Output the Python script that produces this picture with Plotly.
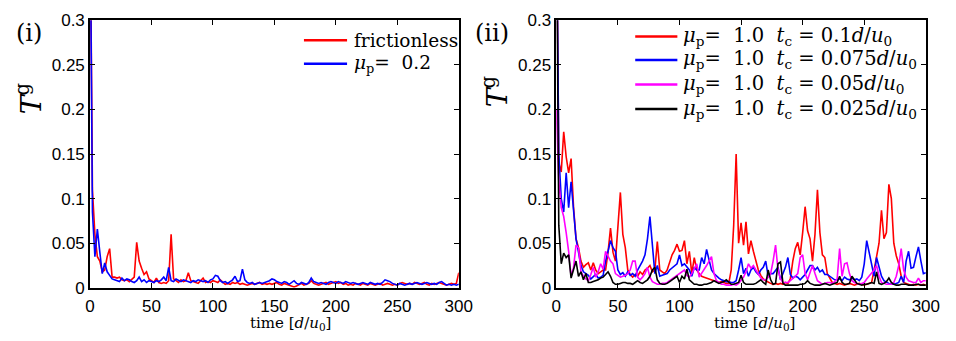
import plotly.graph_objects as go

# sampling times [d/u0]
time = list(range(0, 301, 2))

# ---- panel (i) ----
frictionless = [
    0.45, 0.11, 0.06, 0.035, 0.03, 0.018, 0.02, 0.035, 0.044, 0.012,
    0.012, 0.011, 0.012, 0.009, 0.008, 0.009, 0.007, 0.010, 0.012, 0.051,
    0.030, 0.022, 0.015, 0.018, 0.010, 0.008, 0.006, 0.011, 0.006, 0.005,
    0.006, 0.005, 0.008, 0.060, 0.010, 0.008, 0.006, 0.009, 0.007, 0.008,
    0.017, 0.008, 0.007, 0.006, 0.005, 0.008, 0.011, 0.006, 0.007, 0.006,
    0.008, 0.007, 0.006, 0.009, 0.007, 0.004, 0.005, 0.004, 0.006, 0.005,
    0.006, 0.004, 0.005, 0.004, 0.003, 0.004, 0.005, 0.004, 0.005, 0.006,
    0.004, 0.005, 0.004, 0.005, 0.004, 0.005, 0.006, 0.004, 0.003, 0.005,
    0.004, 0.003, 0.002, 0.001, 0.002, 0.004, 0.005, 0.003, 0.004, 0.005,
    0.008, 0.005, 0.004, 0.003, 0.004, 0.005, 0.006, 0.004, 0.005, 0.006,
    0.007, 0.005, 0.006, 0.004, 0.005, 0.003, 0.004, 0.003, 0.005, 0.004,
    0.003, 0.005, 0.004, 0.003, 0.005, 0.004, 0.003, 0.004, 0.005, 0.003,
    0.004, 0.005, 0.004, 0.003, 0.004, 0.003, 0.005, 0.006, 0.005, 0.004,
    0.005, 0.004, 0.006, 0.005, 0.004, 0.005, 0.006, 0.004, 0.003, 0.005,
    0.004, 0.005, 0.006, 0.005, 0.004, 0.003, 0.004, 0.005, 0.004, 0.005,
    0.017,
]
mu02 = [
    0.45, 0.085, 0.035, 0.066, 0.040, 0.016, 0.028, 0.018, 0.014, 0.010,
    0.009, 0.008, 0.007, 0.011, 0.008, 0.010, 0.009, 0.007, 0.006, 0.008,
    0.012, 0.007, 0.009, 0.006, 0.008, 0.007, 0.006, 0.008, 0.007, 0.009,
    0.012, 0.008, 0.023, 0.008, 0.007, 0.010, 0.008, 0.007, 0.009, 0.008,
    0.007, 0.006, 0.008, 0.007, 0.009, 0.008, 0.007, 0.008, 0.006, 0.009,
    0.010, 0.014, 0.013, 0.008, 0.006, 0.007, 0.005, 0.007, 0.009, 0.013,
    0.007, 0.008, 0.021, 0.009, 0.006, 0.005, 0.006, 0.004, 0.005, 0.006,
    0.005, 0.006, 0.007, 0.008, 0.010, 0.009, 0.007, 0.006, 0.005, 0.007,
    0.006, 0.004, 0.006, 0.008, 0.005, 0.004, 0.006, 0.005, 0.004, 0.006,
    0.011, 0.007, 0.006, 0.005, 0.006, 0.005, 0.004, 0.006, 0.007, 0.006,
    0.005, 0.007, 0.006, 0.005, 0.007, 0.006, 0.005, 0.006, 0.005, 0.004,
    0.005, 0.006, 0.005, 0.004, 0.006, 0.005, 0.004, 0.005, 0.004, 0.006,
    0.009, 0.008, 0.007, 0.005, 0.004, 0.003, 0.005, 0.004, 0.003, 0.004,
    0.005, 0.004, 0.005, 0.006, 0.005, 0.004, 0.005, 0.006, 0.005, 0.004,
    0.005, 0.004, 0.006, 0.007, 0.005, 0.003, 0.004, 0.003, 0.004, 0.003,
    0.004,
]

# ---- panel (ii) ----
tc_0100 = [
    0.45, 0.14, 0.13, 0.175, 0.147, 0.129, 0.145, 0.09, 0.055, 0.045,
    0.03, 0.023, 0.026, 0.028, 0.02, 0.028, 0.02, 0.016, 0.018, 0.02,
    0.02, 0.04, 0.067, 0.04, 0.03, 0.075, 0.107, 0.06, 0.045, 0.02,
    0.015, 0.012, 0.015, 0.013, 0.018, 0.015, 0.02, 0.022, 0.025, 0.018,
    0.02, 0.052, 0.02, 0.018, 0.016, 0.02, 0.03, 0.037, 0.042, 0.049,
    0.041, 0.042, 0.053, 0.027, 0.041, 0.016, 0.034, 0.02, 0.016, 0.013,
    0.012, 0.011, 0.01, 0.009, 0.008, 0.007, 0.006, 0.007, 0.006, 0.005,
    0.005, 0.02, 0.07, 0.15, 0.05, 0.073, 0.048, 0.074, 0.038, 0.053,
    0.041, 0.03, 0.02, 0.014, 0.01, 0.008, 0.006, 0.005, 0.004, 0.005,
    0.004, 0.005, 0.004, 0.006, 0.005, 0.01, 0.03, 0.044, 0.051, 0.037,
    0.062, 0.091, 0.064, 0.055, 0.03, 0.06, 0.11, 0.062, 0.037, 0.034,
    0.016, 0.01, 0.006, 0.005, 0.004, 0.005, 0.004, 0.003, 0.004, 0.005,
    0.004, 0.003, 0.004, 0.005, 0.004, 0.003, 0.004, 0.005, 0.006, 0.02,
    0.034, 0.05, 0.087, 0.055, 0.062, 0.116, 0.1, 0.05, 0.036, 0.027,
    0.013, 0.006, 0.005, 0.004, 0.003, 0.004, 0.003, 0.004, 0.003, 0.004,
    0.003,
]
tc_0075 = [
    0.45, 0.15, 0.1, 0.085, 0.129, 0.09, 0.119, 0.085, 0.055, 0.04,
    0.025, 0.018, 0.016, 0.014, 0.01, 0.013, 0.015, 0.011, 0.012, 0.014,
    0.03, 0.041, 0.053, 0.045, 0.041, 0.02, 0.015, 0.017, 0.013, 0.018,
    0.014, 0.016, 0.013, 0.02, 0.025, 0.03, 0.037, 0.055, 0.08, 0.045,
    0.016, 0.025, 0.013, 0.014, 0.015, 0.016, 0.02, 0.022, 0.024, 0.027,
    0.037, 0.025, 0.027, 0.024, 0.02, 0.013, 0.023, 0.02, 0.02, 0.034,
    0.027, 0.043, 0.031, 0.02, 0.016, 0.013, 0.011, 0.009, 0.008, 0.007,
    0.007, 0.006, 0.006, 0.008, 0.02, 0.034, 0.016, 0.022, 0.013, 0.02,
    0.023, 0.018, 0.015, 0.02, 0.023, 0.03, 0.013, 0.016, 0.016, 0.02,
    0.023, 0.009, 0.015, 0.023, 0.034, 0.015, 0.011, 0.013, 0.012, 0.009,
    0.012, 0.015, 0.02, 0.025, 0.025, 0.02, 0.023, 0.018, 0.02, 0.015,
    0.015, 0.013, 0.011, 0.009, 0.009, 0.01, 0.008, 0.012, 0.01, 0.009,
    0.011, 0.009, 0.01, 0.008, 0.012, 0.027, 0.053, 0.04, 0.023, 0.013,
    0.034, 0.023, 0.013, 0.008, 0.006, 0.005, 0.004, 0.004, 0.005, 0.006,
    0.013, 0.006, 0.03, 0.041, 0.022, 0.023, 0.035, 0.046, 0.03, 0.016,
    0.017,
]
tc_0050 = [
    0.2, 0.12, 0.09, 0.08, 0.062, 0.041, 0.013, 0.023, 0.048, 0.045,
    0.018, 0.013, 0.01, 0.008, 0.015, 0.023, 0.012, 0.018, 0.027, 0.021,
    0.041, 0.035, 0.03, 0.027, 0.016, 0.014, 0.012, 0.013, 0.014, 0.016,
    0.02, 0.03, 0.03, 0.012, 0.009, 0.012, 0.016, 0.023, 0.012, 0.007,
    0.005, 0.004, 0.004, 0.005, 0.005, 0.006, 0.008, 0.01, 0.012, 0.014,
    0.016, 0.018, 0.02, 0.014, 0.012, 0.016, 0.022, 0.027, 0.012, 0.016,
    0.02, 0.025, 0.03, 0.035, 0.016, 0.008, 0.006, 0.004, 0.004, 0.003,
    0.003, 0.003, 0.004, 0.003, 0.005, 0.008, 0.012, 0.018, 0.027, 0.022,
    0.025, 0.02, 0.016, 0.011, 0.009, 0.009, 0.012, 0.016, 0.03, 0.048,
    0.02, 0.01, 0.006, 0.006, 0.006, 0.008, 0.01, 0.013, 0.016, 0.034,
    0.037, 0.016, 0.009, 0.018, 0.025, 0.016, 0.008, 0.006, 0.004, 0.005,
    0.006, 0.006, 0.005, 0.007, 0.01, 0.044, 0.013, 0.027, 0.028, 0.016,
    0.008, 0.006, 0.005, 0.004, 0.005, 0.006, 0.01, 0.013, 0.016, 0.02,
    0.025, 0.013, 0.006, 0.005, 0.004, 0.004, 0.004, 0.006, 0.013, 0.025,
    0.044, 0.02, 0.012, 0.008, 0.007, 0.006, 0.006, 0.011, 0.006, 0.008,
    0.008,
]
tc_0025 = [
    0.45, 0.07, 0.027, 0.039, 0.034, 0.037, 0.011, 0.02, 0.03, 0.013,
    0.018, 0.009, 0.016, 0.006, 0.006, 0.007, 0.008, 0.009, 0.011, 0.012,
    0.015, 0.018, 0.013, 0.006, 0.004, 0.004, 0.005, 0.006, 0.006, 0.005,
    0.005, 0.004, 0.006, 0.008, 0.006, 0.005, 0.007, 0.009, 0.013, 0.02,
    0.023, 0.009, 0.005, 0.004, 0.004, 0.005, 0.007, 0.009, 0.011, 0.013,
    0.006, 0.013, 0.01, 0.021, 0.009, 0.006, 0.004, 0.004, 0.003, 0.003,
    0.004, 0.004, 0.005, 0.006, 0.008, 0.006, 0.005, 0.006, 0.007, 0.009,
    0.006, 0.004, 0.004, 0.005, 0.006, 0.014, 0.006, 0.004, 0.004, 0.004,
    0.004, 0.005, 0.007, 0.009, 0.006, 0.004, 0.02, 0.009, 0.004, 0.005,
    0.027, 0.029, 0.005, 0.003, 0.003, 0.003, 0.003, 0.003, 0.003, 0.004,
    0.004, 0.005, 0.008, 0.005, 0.004, 0.003, 0.003, 0.003, 0.004, 0.005,
    0.004, 0.003, 0.004, 0.005, 0.006, 0.013, 0.006, 0.004, 0.004, 0.005,
    0.013, 0.009, 0.005, 0.004, 0.003, 0.004, 0.004, 0.005, 0.006, 0.005,
    0.018, 0.005, 0.004, 0.005, 0.007, 0.011, 0.006, 0.004, 0.003, 0.003,
    0.004, 0.004, 0.004, 0.003, 0.003, 0.003, 0.004, 0.004, 0.003, 0.003,
    0.003,
]

SP = "&#160;"
MU = "<i>μ</i><sub>p</sub>=" + SP
TC = SP + SP + "<i>t</i><sub>c</sub>" + SP + "=" + SP
DU = "<i>d</i>/<i>u</i><sub>0</sub>"
left_series = [
    ("frictionless", frictionless, "#ff0000"),
    (MU + SP + "0.2", mu02, "#0000ff"),
]
right_series = [
    (MU + SP + "1.0" + TC + "0.1" + DU, tc_0100, "#ff0000"),
    (MU + SP + "1.0" + TC + "0.075" + DU, tc_0075, "#0000ff"),
    (MU + SP + "1.0" + TC + "0.05" + DU, tc_0050, "#ff00ff"),
    (MU + SP + "1.0" + TC + "0.025" + DU, tc_0025, "#000000"),
]

x_ticks = [0, 50, 100, 150, 200, 250, 300]
y_ticks = [0, 0.05, 0.1, 0.15, 0.2, 0.25, 0.3]
y_ticklabels = ["0", "0.05", "0.1", "0.15", "0.2", "0.25", "0.3"]

W, H = 956, 341
SERIF = "DejaVu Serif"
SANS = "Liberation Sans"


def px_x(p):
    return p / W


def px_y(p):
    return (H - p) / H


fig = go.Figure()
for name, vals, col in left_series:
    assert len(vals) == len(time)
    fig.add_trace(go.Scatter(x=time, y=vals, mode="lines", name=name,
                             line=dict(color=col, width=1.6), showlegend=False,
                             xaxis="x", yaxis="y"))
for name, vals, col in right_series:
    assert len(vals) == len(time)
    fig.add_trace(go.Scatter(x=time, y=vals, mode="lines", name=name,
                             line=dict(color=col, width=1.6), showlegend=False,
                             xaxis="x2", yaxis="y2"))

axis_common = dict(showgrid=False, zeroline=False, showline=True, linecolor="black",
                   linewidth=1.5, mirror="ticks", ticks="inside", ticklen=5,
                   tickwidth=1, tickcolor="black",
                   tickfont=dict(family=SANS, size=17, color="black"))

fig.update_layout(
    width=W, height=H, margin=dict(l=0, r=0, t=0, b=0),
    paper_bgcolor="white", plot_bgcolor="white",
    xaxis=dict(domain=[px_x(86.7), px_x(463)], range=[0, 300], tickvals=x_ticks,
               anchor="y", ticklabelstandoff=2, **axis_common),
    yaxis=dict(domain=[px_y(295.3), px_y(12)], range=[0, 0.3], tickvals=y_ticks,
               ticktext=y_ticklabels, anchor="x", ticklabelstandoff=0, **axis_common),
    xaxis2=dict(domain=[px_x(562.5), px_x(939.5)], range=[0, 300], tickvals=x_ticks,
                anchor="y2", ticklabelstandoff=2, **axis_common),
    yaxis2=dict(domain=[px_y(295.3), px_y(12)], range=[0, 0.3], tickvals=y_ticks,
                ticktext=y_ticklabels, anchor="x2", ticklabelstandoff=0, **axis_common),
    showlegend=False,
)

annotations = [
    dict(text="(i)", x=px_x(9), y=px_y(25), xanchor="left", yanchor="middle",
         font=dict(family=SERIF, size=24, color="black")),
    dict(text="(ii)", x=px_x(477), y=px_y(25), xanchor="left", yanchor="middle",
         font=dict(family=SERIF, size=24, color="black")),
    dict(text="<i>T</i><sup>g</sup>", x=px_x(25), y=px_y(95), textangle=-90,
         xanchor="center", yanchor="middle", font=dict(family=SERIF, size=28, color="black")),
    dict(text="<i>T</i><sup>g</sup>", x=px_x(500), y=px_y(88), textangle=-90,
         xanchor="center", yanchor="middle", font=dict(family=SERIF, size=28, color="black")),
    dict(text="time [<i>d</i>/<i>u</i><sub>0</sub>]", x=px_x(291), y=px_y(333),
         xanchor="center", yanchor="middle", font=dict(family=SERIF, size=15, color="black")),
    dict(text="time [<i>d</i>/<i>u</i><sub>0</sub>]", x=px_x(765), y=px_y(333),
         xanchor="center", yanchor="middle", font=dict(family=SERIF, size=15, color="black")),
]

# legend keys (sample line + label) for each panel
shapes = []
legend_specs = [
    (left_series, 305, 349, 354, [33, 58], 18.5),
    (right_series, 643, 686, 690, [29, 54, 80, 106], 19.5),
]
for series, x0, x1, xt, rows, fsize in legend_specs:
    for (name, _vals, col), yrow in zip(series, rows):
        shapes.append(dict(type="line", xref="paper", yref="paper",
                           x0=px_x(x0), x1=px_x(x1), y0=px_y(yrow), y1=px_y(yrow),
                           line=dict(color=col, width=2.5)))
        annotations.append(dict(text=name, x=px_x(xt), y=px_y(yrow), xanchor="left",
                                yanchor="middle",
                                font=dict(family=SERIF, size=fsize, color="black")))

for a in annotations:
    a.update(xref="paper", yref="paper", showarrow=False)
fig.update_layout(annotations=annotations, shapes=shapes)

fig.write_html("out.html")
